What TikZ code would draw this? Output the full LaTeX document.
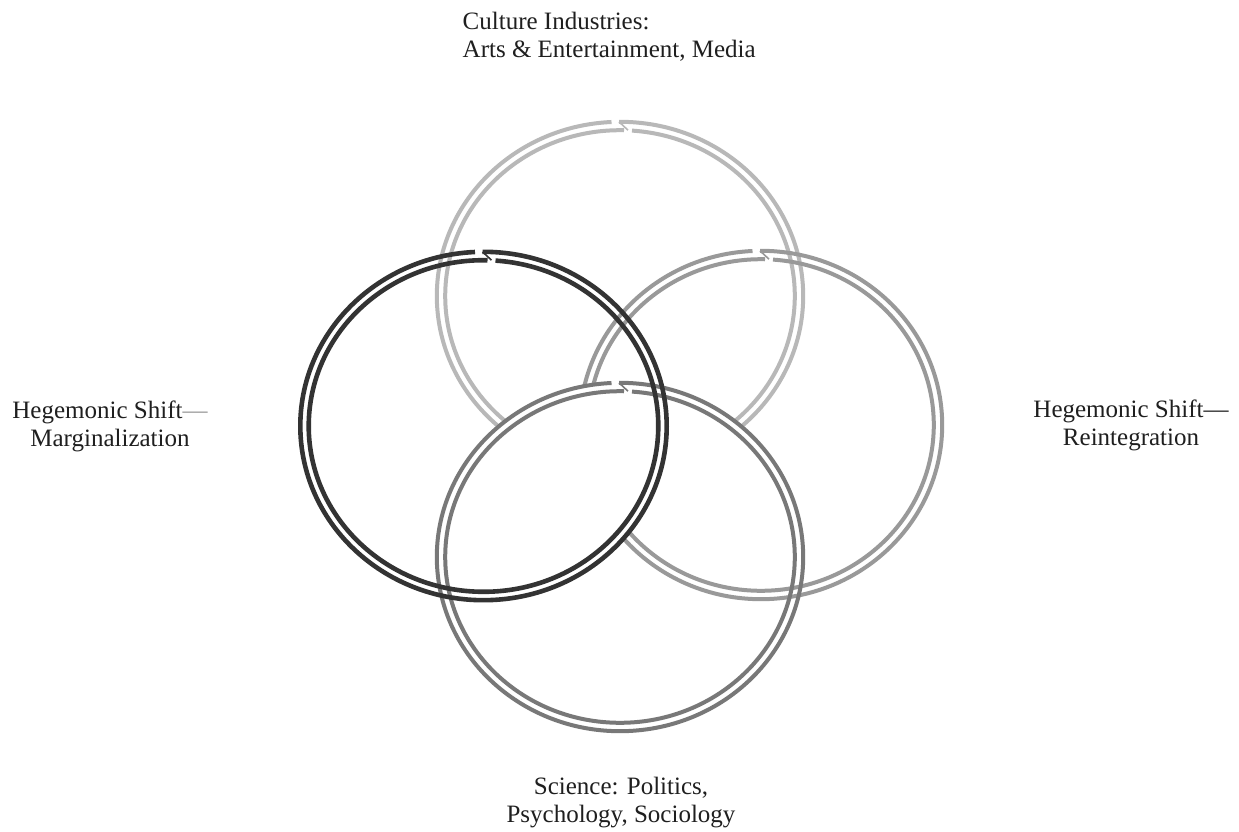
\documentclass[tikz,border=0pt]{standalone}
\usepackage{fontspec}
\setmainfont{Liberation Serif}
\definecolor{ctop}{gray}{0.72}
\definecolor{cright}{gray}{0.60}
\definecolor{cbottom}{gray}{0.47}
\definecolor{cleft}{gray}{0.20}
\tikzset{
  lbl/.style={font=\fontsize{25}{28}\selectfont, text=black!88, inner sep=0pt, align=center},
  ringline/.style={draw=#1, line width=4pt},
  seamline/.style={draw=#1, line width=1.6pt},
  heavyring/.style={line width=4.6pt},
}
\newcommand\drawring[5][]{%
  \pgfmathsetmacro\ao{#3+4.2}\pgfmathsetmacro\bo{#4+4.2}%
  \pgfmathsetmacro\ai{#3-4.2}\pgfmathsetmacro\bi{#4-4.2}%
  \pgfmathsetmacro\tA{90+asin(8.5/\ao)}%
  \pgfmathsetmacro\tB{450+asin(1/\ao)}%
  \pgfmathsetmacro\tC{90-asin(4/\ai)}%
  \pgfmathsetmacro\tD{450-asin(12/\ai)}%
  \pgfmathsetmacro\dy{\bo-\bi}%
  \draw[ringline=#5,#1] (#2) ++({\ao*cos(\tA)},{\bo*sin(\tA)}) arc[start angle=\tA, end angle=\tB, x radius=\ao, y radius=\bo];
  \draw[ringline=#5,#1] (#2) ++({\ai*cos(\tC)},{\bi*sin(\tC)}) arc[start angle=\tC, end angle=\tD, x radius=\ai, y radius=\bi];
  \draw[seamline=#5] (#2) ++(-1,\bo) -- ++(9,-\dy);
}
\begin{document}
\begin{tikzpicture}[x=1pt,y=1pt]
\fill[white] (0,0) rectangle (1239,-832);
\useasboundingbox (0,0) rectangle (1239,-832);
\coordinate (T) at (620,-296);
\coordinate (R) at (761,-425);
\coordinate (B) at (620,-557);
\coordinate (L) at (483.5,-426);
% top ring, hidden inside bottom ring
\begin{scope}[even odd rule]
  \clip (-10,10) rectangle (1250,-850) (B) ellipse[x radius=184.5, y radius=175.5];
  \drawring{T}{179}{170}{ctop}
\end{scope}
% right ring, hidden inside bottom and left rings
\begin{scope}[even odd rule]
  \clip (-10,10) rectangle (1250,-850) (B) ellipse[x radius=184.5, y radius=175.5];
  \drawring{R}{177}{170}{cright}
\end{scope}
\begin{scope}
  \clip (B) ellipse[x radius=184.5, y radius=175.5];
  \begin{scope}[even odd rule]
    \clip (-10,10) rectangle (1250,-850) (L) ellipse[x radius=184.5, y radius=175.5];
    \drawring{R}{177}{170}{cright}
  \end{scope}
\end{scope}
\drawring{B}{179}{170}{cbottom}
\drawring[heavyring]{L}{179}{170}{cleft}
% labels
\node[lbl, align=left, anchor=base west] (culture) at (462.5,-58) {Culture Industries:\\Arts \& Entertainment, Media};
\node[lbl, anchor=base] (marg) at (110,-446) {Hegemonic Shift{\color{black!40}—}\\Marginalization};
\node[lbl, anchor=base] (reint) at (1131,-445) {Hegemonic Shift—\\Reintegration};
\node[lbl, anchor=base] (sci) at (621,-822) {Science: Politics,\\Psychology, Sociology};
\end{tikzpicture}
\end{document}
